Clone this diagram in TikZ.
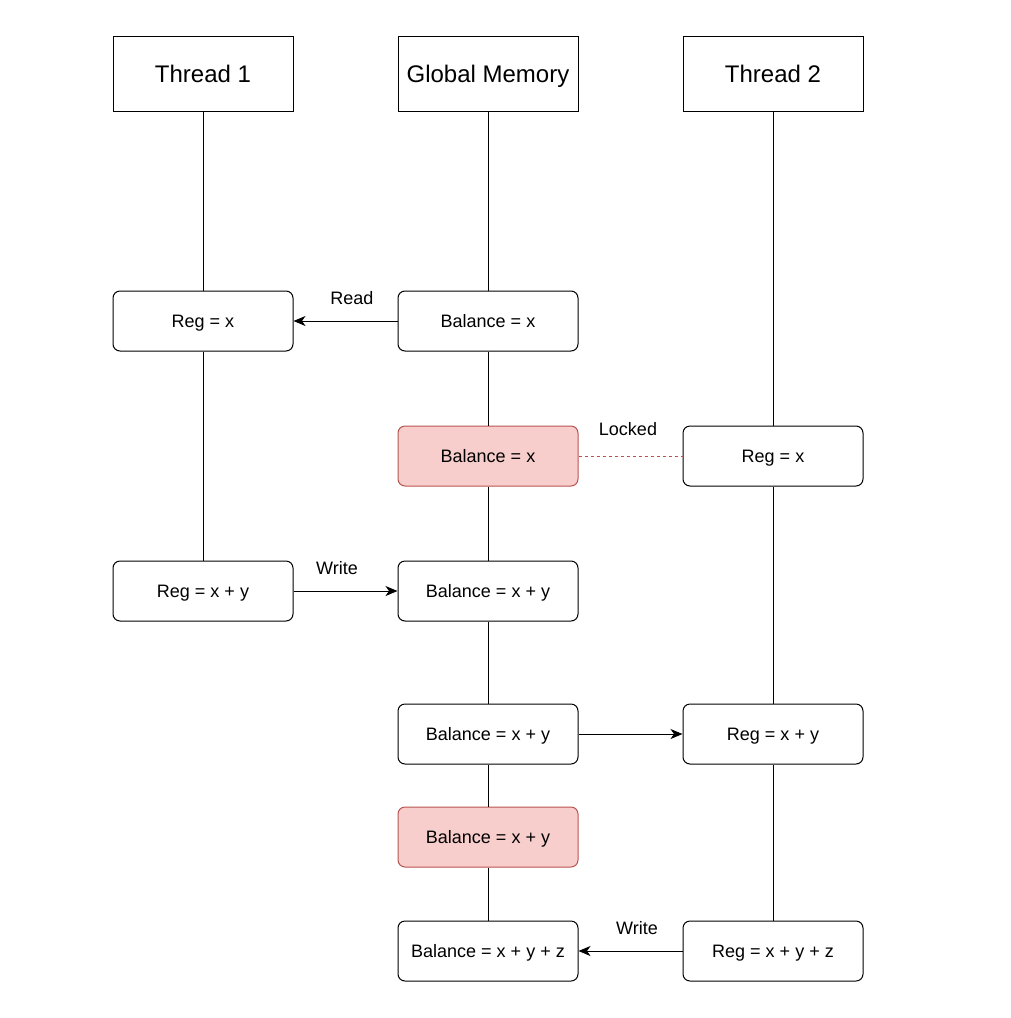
\documentclass[tikz,border=0pt]{standalone}
\usepackage{fontspec}
\setmainfont{Liberation Sans}
\usetikzlibrary{arrows.meta}
\definecolor{lockfill}{HTML}{F8CECC}
\definecolor{lockdraw}{HTML}{B85450}
\begin{document}
\begin{tikzpicture}[x=1pt,y=-1pt,
  header/.style={draw=black,line width=1pt,minimum width=180pt,minimum height=75pt,inner sep=0pt,text height=17.2pt,text depth=0pt,font=\fontsize{24}{28}\selectfont},
  cell/.style={draw=black,line width=1pt,rounded corners=7pt,minimum width=180pt,minimum height=60pt,inner sep=0pt,text height=12.9pt,text depth=0pt,font=\fontsize{18}{21}\selectfont},
  lockcell/.style={cell,fill=lockfill,draw=lockdraw},
  life/.style={line width=1pt},
  msg/.style={line width=1pt,-{Stealth[length=12pt,width=10pt,inset=3.5pt]}},
  lbl/.style={font=\fontsize{18}{21}\selectfont,inner sep=0pt,text height=12.9pt,text depth=0pt}]
\useasboundingbox (0,0) rectangle (1010,1018);
\node[header] (t1) at (203,73.5) {Thread 1};
\node[header] (gm) at (488,73.5) {Global Memory};
\node[header] (t2) at (773,73.5) {Thread 2};

\node[cell] (r1) at (203,321) {Reg = x};
\node[cell] (b1) at (488,321) {Balance = x};
\node[lockcell] (b2) at (488,456) {Balance = x};
\node[cell] (s1) at (773,456) {Reg = x};
\node[cell] (r2) at (203,591) {Reg = x + y};
\node[cell] (b3) at (488,591) {Balance = x + y};
\node[cell] (b4) at (488,734) {Balance = x + y};
\node[cell] (s2) at (773,734) {Reg = x + y};
\node[lockcell] (b5) at (488,837) {Balance = x + y};
\node[cell] (b6) at (488,951) {Balance = x + y + z};
\node[cell] (s3) at (773,951) {Reg = x + y + z};

\draw[life] (t1) -- (r1);
\draw[life] (r1) -- (r2);
\draw[life] (gm) -- (b1);
\draw[life] (b1) -- (b2);
\draw[life] (b2) -- (b3);
\draw[life] (b3) -- (b4);
\draw[life] (b4) -- (b5);
\draw[life] (b5) -- (b6);
\draw[life] (t2) -- (s1);
\draw[life] (s1) -- (s2);
\draw[life] (s2) -- (s3);

\draw[msg] (b1) -- (r1);
\draw[msg] (r2) -- (b3);
\draw[msg] (b4) -- (s2);
\draw[msg] (s3) -- (b6);
\draw[lockdraw,line width=1pt,dash pattern=on 3pt off 3pt] (b2) -- (s1);

\node[lbl] (lread) at (352,298) {Read};
\node[lbl] (lwrite1) at (337,568) {Write};
\node[lbl] (llock) at (628,429) {Locked};
\node[lbl] (lwrite2) at (637,928) {Write};
\end{tikzpicture}
\end{document}
